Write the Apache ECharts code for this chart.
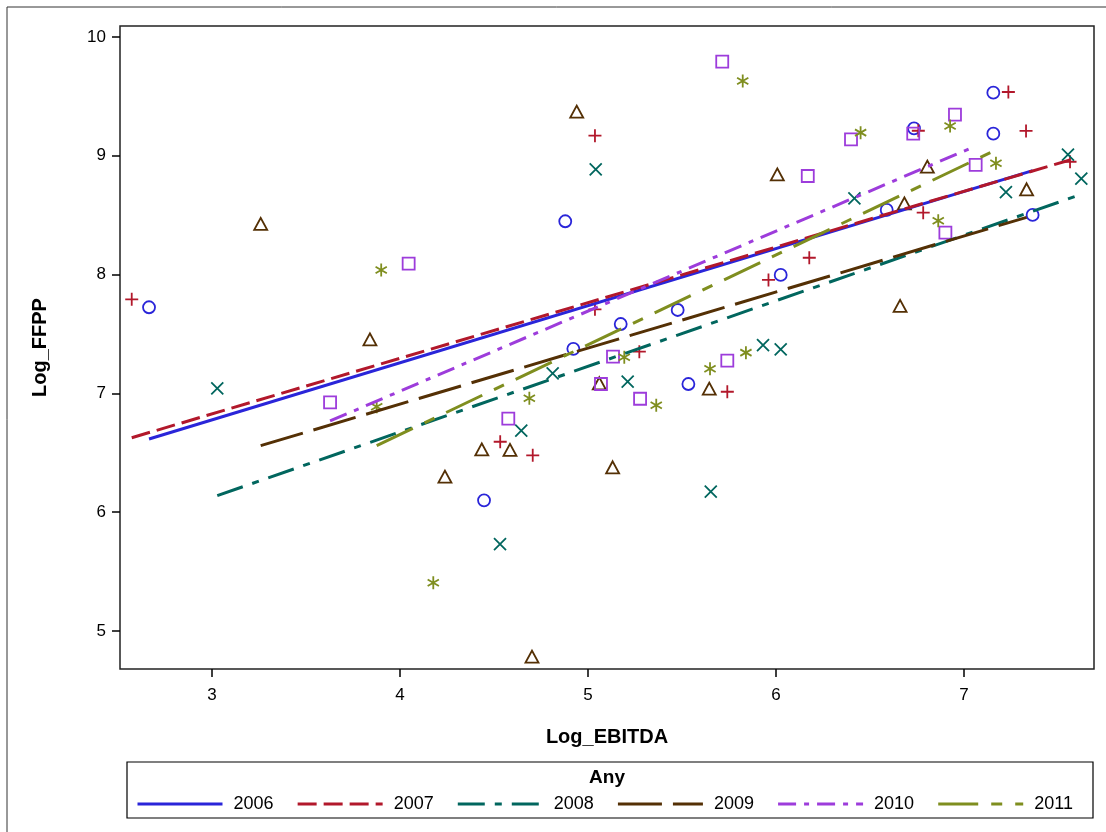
<!DOCTYPE html>
<html>
<head>
<meta charset="utf-8">
<script src="https://cdn.jsdelivr.net/npm/echarts@6/dist/echarts.min.js"></script>
<style>
  html, body { margin: 0; padding: 0; background: #fff; }
  #chart { width: 1106px; height: 832px; }
</style>
</head>
<body>
<div id="chart"></div>
<script>
// ---------------- data ----------------
const years = ['2006', '2007', '2008', '2009', '2010', '2011'];
const xTicks = [3, 4, 5, 6, 7];
const yTicks = [5, 6, 7, 8, 9, 10];

// scatter points [Log_EBITDA, Log_FFPP]
const pts2006 = [[2.665,7.725],[4.447,6.10],[4.879,8.449],[4.922,7.375],[5.174,7.584],[5.477,7.702],[5.534,7.079],[6.025,7.997],[6.589,8.544],[6.734,9.231],[7.156,9.531],[7.156,9.186],[7.365,8.502]];
const pts2007 = [[2.573,7.792],[4.533,6.593],[4.706,6.479],[5.037,9.169],[5.037,7.708],[5.273,7.351],[5.741,7.014],[5.960,7.955],[6.177,8.142],[6.757,9.211],[6.783,8.521],[7.236,9.537],[7.330,9.209],[7.564,8.950]];
const pts2008 = [[3.028,7.043],[4.532,5.732],[4.645,6.686],[4.812,7.169],[5.041,8.886],[5.211,7.099],[5.653,6.173],[5.931,7.407],[6.025,7.371],[6.417,8.642],[7.223,8.695],[7.553,9.009],[7.624,8.807]];
const pts2009 = [[3.259,8.426],[3.840,7.455],[4.239,6.299],[4.435,6.529],[4.585,6.524],[4.702,4.784],[4.940,9.371],[5.060,7.085],[5.131,6.378],[5.645,7.040],[6.007,8.844],[6.660,7.736],[6.683,8.600],[6.805,8.908],[7.333,8.718]];
const pts2010 = [[3.628,6.925],[4.046,8.092],[4.576,6.787],[5.069,7.079],[5.133,7.309],[5.277,6.955],[5.714,9.792],[5.741,7.275],[6.169,8.830],[6.399,9.139],[6.730,9.186],[6.901,8.353],[6.952,9.346],[7.062,8.923]];
const pts2011 = [[3.876,6.888],[3.900,8.039],[4.177,5.406],[4.688,6.959],[5.193,7.304],[5.363,6.900],[5.649,7.208],[5.823,9.630],[5.840,7.343],[6.450,9.195],[6.863,8.454],[6.926,9.251],[7.170,8.937]];

// fitted regression lines (end points)
const fit2006 = [[2.665,6.616],[7.365,8.875]];
const fit2007 = [[2.573,6.627],[7.564,8.965]];
const fit2008 = [[3.028,6.139],[7.624,8.676]];
const fit2009 = [[3.259,6.560],[7.333,8.482]];
const fit2010 = [[3.628,6.768],[7.062,9.082]];
const fit2011 = [[3.876,6.560],[7.170,9.049]];

// ---------------- styles ----------------
const colors = ['#2A25D9', '#B2182B', '#01665E', '#543005', '#9D3CDB', '#7F8E1F'];
const dashes = ['solid', [19, 7], [27, 10, 7, 10], [44, 11], [18, 8, 5, 8], [40, 13, 11, 13]];
const symbols = [
  'circle',
  'path://M0,5L10,5M5,0L5,10',
  'path://M0,0L10,10M10,0L0,10',
  'triangle',
  'rect',
  'path://M5,0L5,10M0.67,2.5L9.33,7.5M0.67,7.5L9.33,2.5'
];
const symbolSizes = [12, 13, 12, [13, 12], 12, 13];

const pointSets = [pts2006, pts2007, pts2008, pts2009, pts2010, pts2011];
const fitSets = [fit2006, fit2007, fit2008, fit2009, fit2010, fit2011];

const FONT = '"Liberation Sans", Arial, sans-serif';

const series = [];
years.forEach((y, i) => {
  series.push({
    name: y,
    type: 'line',
    data: fitSets[i],
    symbol: 'none',
    showSymbol: false,
    silent: true,
    z: 3,
    lineStyle: { color: colors[i], width: 3, type: dashes[i] },
    itemStyle: { color: colors[i] }
  });
});
years.forEach((y, i) => {
  series.push({
    name: y + ' points',
    type: 'scatter',
    data: pointSets[i],
    symbol: symbols[i],
    symbolSize: symbolSizes[i],
    symbolKeepAspect: true,
    silent: true,
    z: 2,
    itemStyle: { color: 'rgba(0,0,0,0)', borderColor: colors[i], borderWidth: 1.8, opacity: 1 }
  });
});

const chart = echarts.init(document.getElementById('chart'), null, { renderer: 'canvas' });
chart.setOption({
  animation: false,
  backgroundColor: '#fff',
  textStyle: { fontFamily: FONT },
  grid: {
    left: 120, right: 12, top: 26, bottom: 163,
    show: true, borderColor: '#222', borderWidth: 1.5, backgroundColor: '#fff'
  },
  xAxis: {
    type: 'value',
    min: 2.5106, max: 7.6915,
    name: 'Log_EBITDA',
    nameLocation: 'middle',
    nameGap: 58,
    nameTextStyle: { fontFamily: FONT, fontWeight: 'bold', fontSize: 20, color: '#000' },
    axisLine: { show: false },
    splitLine: { show: false },
    axisTick: { show: true, length: 8, inside: false, customValues: xTicks, lineStyle: { color: '#000', width: 1.5 } },
    axisLabel: { customValues: xTicks, margin: 18, fontSize: 17, color: '#000', fontFamily: FONT }
  },
  yAxis: {
    type: 'value',
    min: 4.680, max: 10.0926,
    name: 'Log_FFPP',
    nameLocation: 'middle',
    nameRotate: 90,
    nameGap: 70,
    nameTextStyle: { fontFamily: FONT, fontWeight: 'bold', fontSize: 20, color: '#000' },
    axisLine: { show: false },
    splitLine: { show: false },
    axisTick: { show: true, length: 8, inside: false, customValues: yTicks, lineStyle: { color: '#000', width: 1.5 } },
    axisLabel: { customValues: yTicks, margin: 14, fontSize: 17, color: '#000', fontFamily: FONT }
  },
  legend: {
    show: true,
    left: 136,
    top: 795,
    padding: 0,
    orient: 'horizontal',
    itemWidth: 85,
    itemHeight: 14,
    itemGap: 22.6,
    selectedMode: false,
    itemStyle: { opacity: 0, color: 'rgba(0,0,0,0)', borderWidth: 0 },
    textStyle: { fontSize: 18, color: '#000', fontFamily: FONT, padding: [0, 0, 0, 6] },
    data: years.map((y, i) => ({
      name: y,
      itemStyle: { opacity: 0, color: 'rgba(0,0,0,0)', borderWidth: 0 },
      lineStyle: { color: colors[i], width: 3, type: dashes[i], opacity: 1 }
    }))
  },
  graphic: [
    { type: 'rect', shape: { x: 127, y: 762, width: 966, height: 56 },
      style: { fill: 'none', stroke: '#000', lineWidth: 1.2 }, silent: true },
    { type: 'text', x: 607, y: 778,
      style: { text: 'Any', font: 'bold 19px ' + FONT, fill: '#000', textAlign: 'center', textVerticalAlign: 'middle' }, silent: true },
    { type: 'line', shape: { x1: 7, y1: 7, x2: 1106, y2: 7 }, style: { stroke: '#333', lineWidth: 1 }, silent: true },
    { type: 'line', shape: { x1: 7, y1: 7, x2: 7, y2: 832 }, style: { stroke: '#333', lineWidth: 1 }, silent: true }
  ],
  series: series
});
</script>
</body>
</html>
